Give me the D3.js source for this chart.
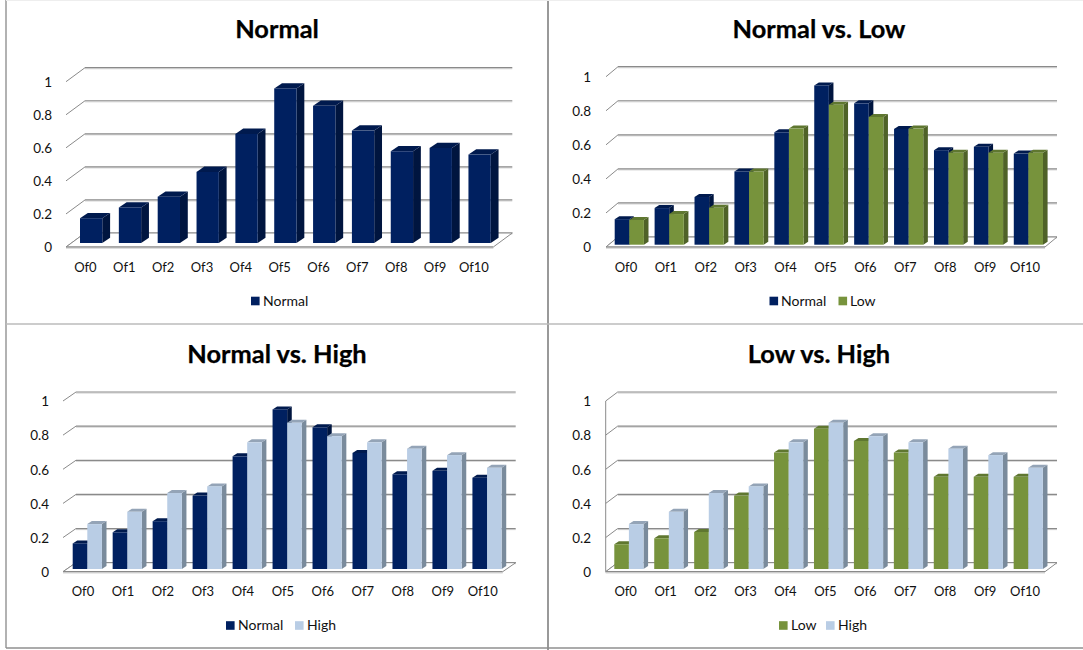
<!DOCTYPE html>
<html><head><meta charset="utf-8">
<script src="https://cdn.jsdelivr.net/npm/d3@7/dist/d3.min.js"></script>
<style>html,body{margin:0;padding:0;background:#fff}svg{display:block}text{font-family:Lato,"Open Sans",sans-serif;fill:#111}</style>
</head><body><svg id="c" width="1083" height="650"></svg>
<script>
const categories = ["Of0","Of1","Of2","Of3","Of4","Of5","Of6","Of7","Of8","Of9","Of10"];
const normalValues = [0.15,0.215,0.28,0.43,0.66,0.935,0.83,0.68,0.555,0.575,0.535];
const lowValues = [0.145,0.18,0.217,0.43,0.682,0.822,0.75,0.682,0.54,0.54,0.54];
const highValues = [0.263,0.335,0.445,0.484,0.742,0.857,0.778,0.742,0.705,0.667,0.593];
const tickValues = [0,0.2,0.4,0.6,0.8,1];
const tickLabels = ["0","0.2","0.4","0.6","0.8","1"];

const styles = {
  Normal:{front:"#002060",side:"#00153f",top:"#001a4e",values:normalValues},
  Low:{front:"#77933c",side:"#4f6228",top:"#5f7730",values:lowValues},
  High:{front:"#b9cde5",side:"#7a8b9c",top:"#94a4b7",values:highValues}
};
const panels = [
 {title:"Normal",series:["Normal"],tx:277,ty:29,x0:66,x1:493.3,y0:247,y1:81.7,dx:19,dy:14,bottom:243,barX:80,barW:22.3,bdx:7.8,bdy:5.3,tickR:52,catY:267,legY:301,leg:[[251,263]]},
 {title:"Normal vs. Low",series:["Normal","Low"],tx:819,ty:29,x0:606,x1:1045,y0:247,y1:76.7,dx:12,dy:10,bottom:244.7,barX:614.7,barW:14.6,bdx:4.6,bdy:3,tickR:591,catY:267,legY:301,leg:[[769.5,781],[838.5,850]]},
 {title:"Normal vs. High",series:["Normal","High"],tx:277,ty:354,x0:63,x1:502.7,y0:571.7,y1:401,dx:13,dy:9,bottom:569,barX:72.7,barW:14.6,bdx:4.6,bdy:3,tickR:49,catY:591,legY:625.5,leg:[[226,238],[295,307]]},
 {title:"Low vs. High",series:["Low","High"],tx:819,ty:354,x0:605.7,x1:1045,y0:571.7,y1:401,dx:12,dy:9,bottom:569,barX:614.3,barW:14.6,bdx:4.6,bdy:3,tickR:591,catY:591,legY:625.5,leg:[[779,791],[826,838]],wall:true}
];
const svg = d3.select("#c");
const grid = "#8a8a8a";

panels.forEach(p=>{
  const g = svg.append("g");
  const y = d3.scaleLinear().domain([0,1]).range([p.y0,p.y1]);
  const x = d3.scaleBand().domain(categories).range([p.x0,p.x1]);
  const yb = d3.scaleLinear().domain([0,1]).range([p.bottom,p.bottom-(p.y0-p.y1)]);
  const step = x.step();
  const barLeft = (c,k)=> p.barX + step*categories.indexOf(c) + k*p.barW;

  tickValues.forEach(t=>{
    const yy=y(t);
    g.append("line").attr("x1",p.x0+p.dx).attr("x2",p.x1+p.dx).attr("y1",yy-p.dy+1.1).attr("y2",yy-p.dy+1.1).attr("stroke","#d6d6d6").attr("stroke-width",1);
    g.append("line").attr("x1",p.x0+p.dx).attr("x2",p.x1+p.dx).attr("y1",yy-p.dy).attr("y2",yy-p.dy).attr("stroke",grid).attr("stroke-width",1.2);
    g.append("line").attr("x1",p.x0).attr("x2",p.x0+p.dx).attr("y1",yy).attr("y2",yy-p.dy).attr("stroke",grid).attr("stroke-width",1);
  });
  if(p.wall) g.append("line").attr("x1",p.x0).attr("x2",p.x0).attr("y1",y(0)).attr("y2",y(1)).attr("stroke",grid);
  g.append("path").attr("d",`M${p.x0},${y(0)}L${p.x1},${y(0)}L${p.x1+p.dx},${y(0)-p.dy}L${p.x0+p.dx},${y(0)-p.dy}Z`).attr("fill","#fff").attr("stroke","none");
  g.append("path").attr("d",`M${p.x0+p.dx},${y(0)-p.dy}L${p.x1+p.dx},${y(0)-p.dy}L${p.x1},${y(0)}`).attr("fill","none").attr("stroke",grid);
  g.append("line").attr("x1",p.x0).attr("x2",p.x0+p.dx).attr("y1",y(0)).attr("y2",y(0)-p.dy).attr("stroke",grid);
  g.append("line").attr("x1",p.x0).attr("x2",p.x1).attr("y1",y(0)).attr("y2",y(0)).attr("stroke",grid).attr("stroke-width",1.4);
  g.append("line").attr("x1",p.x0).attr("x2",p.x1).attr("y1",y(0)+1.3).attr("y2",y(0)+1.3).attr("stroke","#d6d6d6");

  categories.forEach((c,i)=>{
    p.series.forEach((name,k)=>{
      const s=styles[name], v=s.values[i];
      const l=barLeft(c,k), r=l+p.barW, t=yb(v), b=yb(0);
      const bar=g.append("g").attr("class","bar");
      bar.append("path").attr("d",`M${r},${t}L${r+p.bdx},${t-p.bdy}L${r+p.bdx},${b-p.bdy}L${r},${b}Z`).attr("fill",s.side);
      bar.append("path").attr("d",`M${l},${t}L${l+p.bdx},${t-p.bdy}L${r+p.bdx},${t-p.bdy}L${r},${t}Z`).attr("fill",s.top);
      bar.append("rect").attr("x",l).attr("y",t).attr("width",p.barW).attr("height",b-t).attr("fill",s.front);
    });
  });

  const ya=g.append("g").attr("transform",`translate(${p.tickR},0)`).call(
    d3.axisLeft(y).tickValues(tickValues).tickSize(0).tickPadding(0).tickFormat((d,i)=>tickLabels[i]));
  ya.select(".domain").remove();
  ya.selectAll("text").attr("font-size",13.5).attr("dy","0.35em").style("fill","#111");
  const xa=g.append("g").attr("transform",`translate(0,${p.catY})`).call(
    d3.axisBottom(x).tickSize(0).tickPadding(0));
  xa.select(".domain").remove();
  xa.selectAll("text").attr("font-size",13).attr("y",0).attr("dy","0.35em").style("fill","#111");
  ya.attr("font-family",null); xa.attr("font-family",null);

  g.append("text").attr("x",p.tx).attr("y",p.ty).attr("text-anchor","middle").attr("dy","0.35em")
    .attr("font-size",25.4).attr("font-weight",700).style("fill","#000").style("stroke","#000").style("stroke-width",0.25).text(p.title);

  p.series.forEach((name,k)=>{
    g.append("rect").attr("x",p.leg[k][0]).attr("y",p.legY-4.3).attr("width",8.6).attr("height",8.6).attr("fill",styles[name].front);
    g.append("text").attr("x",p.leg[k][1]).attr("y",p.legY).attr("dy","0.35em").attr("font-size",14).text(name);
  });
});

[[6,0,6,648,"#999",1.5],[548,0,548,650,"#999",2],[6,324,1083,324,"#bbb",1.5],[6,648,1083,648,"#8f8f8f",1.5],[6,0.5,1083,0.5,"#eee",1]].forEach(a=>
  svg.append("line").attr("x1",a[0]).attr("y1",a[1]).attr("x2",a[2]).attr("y2",a[3]).attr("stroke",a[4]).attr("stroke-width",a[5]));
</script></body></html>
